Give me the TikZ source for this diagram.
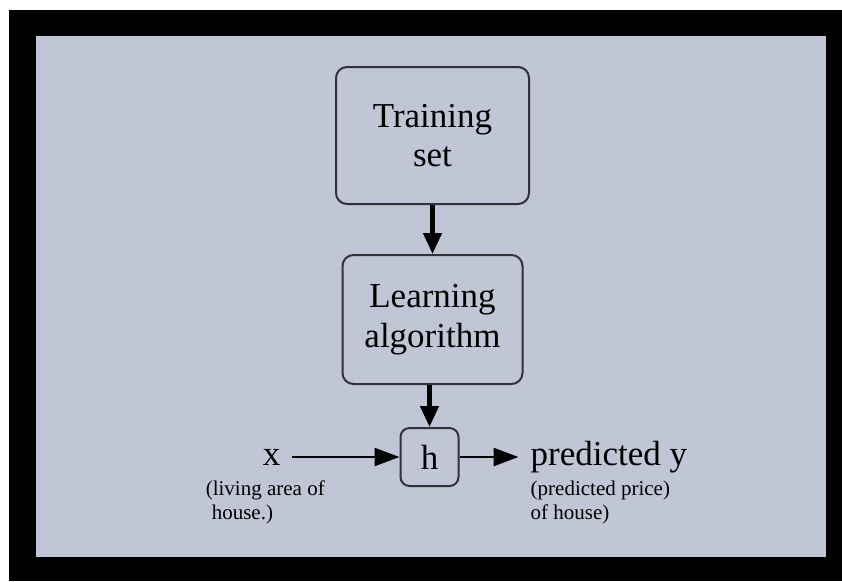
\documentclass[tikz,border=0pt]{standalone}
\usepackage{fontspec}
\setmainfont{Liberation Serif}
\usetikzlibrary{positioning,arrows.meta}

\definecolor{slate}{RGB}{192,198,214}
\definecolor{rim}{RGB}{50,50,56}

\tikzset{
  block/.style={draw=rim, line width=2pt, rounded corners=11pt, fill=slate,
    align=center, inner sep=0pt, font=\fontsize{35}{39.5}\selectfont},
  term/.style={inner ysep=0pt, font=\fontsize{35}{39.5}\selectfont},
  note/.style={align=left, inner sep=0pt, font=\fontsize{21}{24}\selectfont},
  flow/.style={line width=4.5pt, -{Triangle[length=21pt,width=18pt]}},
  feed/.style={line width=2.5pt, -{Triangle[length=25pt,width=18pt]}},
}

\begin{document}
\begin{tikzpicture}[x=1pt,y=-1pt]

% frame

\fill[white] (0,0) rectangle (842,581);
\fill[black] (9,10) rectangle (842,581);
\fill[slate] (36,36) rectangle (826,557);

% define nodes

% blocks
\node[block, minimum width=193pt, minimum height=137pt] (train) at (432.5,135.5) {Training\\set};
\node[block, below=49pt of train, minimum width=180pt, minimum height=129pt] (learn) {Learning\\algorithm};
\node[block, below=42pt of learn, xshift=-3pt, minimum size=58pt, rounded corners=9pt] (hyp) {h};
% input and output
\node[term, left=108pt of hyp, inner xsep=11pt] (xin) {x};
\node[term, right=59pt of hyp, inner xsep=12pt] (pred) {predicted y};
% notes
\node[note, below=15pt of xin.south west, anchor=north west, xshift=-46pt] (xnote) {(living area of\\\hspace*{6pt}house.)};
\node[note, below=8pt of pred.south west, anchor=north west, xshift=12pt] (ynote) {(predicted price)\\of house)};

% edges

\draw[flow] (train) -- (learn);
\draw[flow] (learn.south -| hyp) -- (hyp);
\draw[feed] (xin) -- (hyp);
\draw[feed] (hyp) -- (pred);

\end{tikzpicture}
\end{document}
